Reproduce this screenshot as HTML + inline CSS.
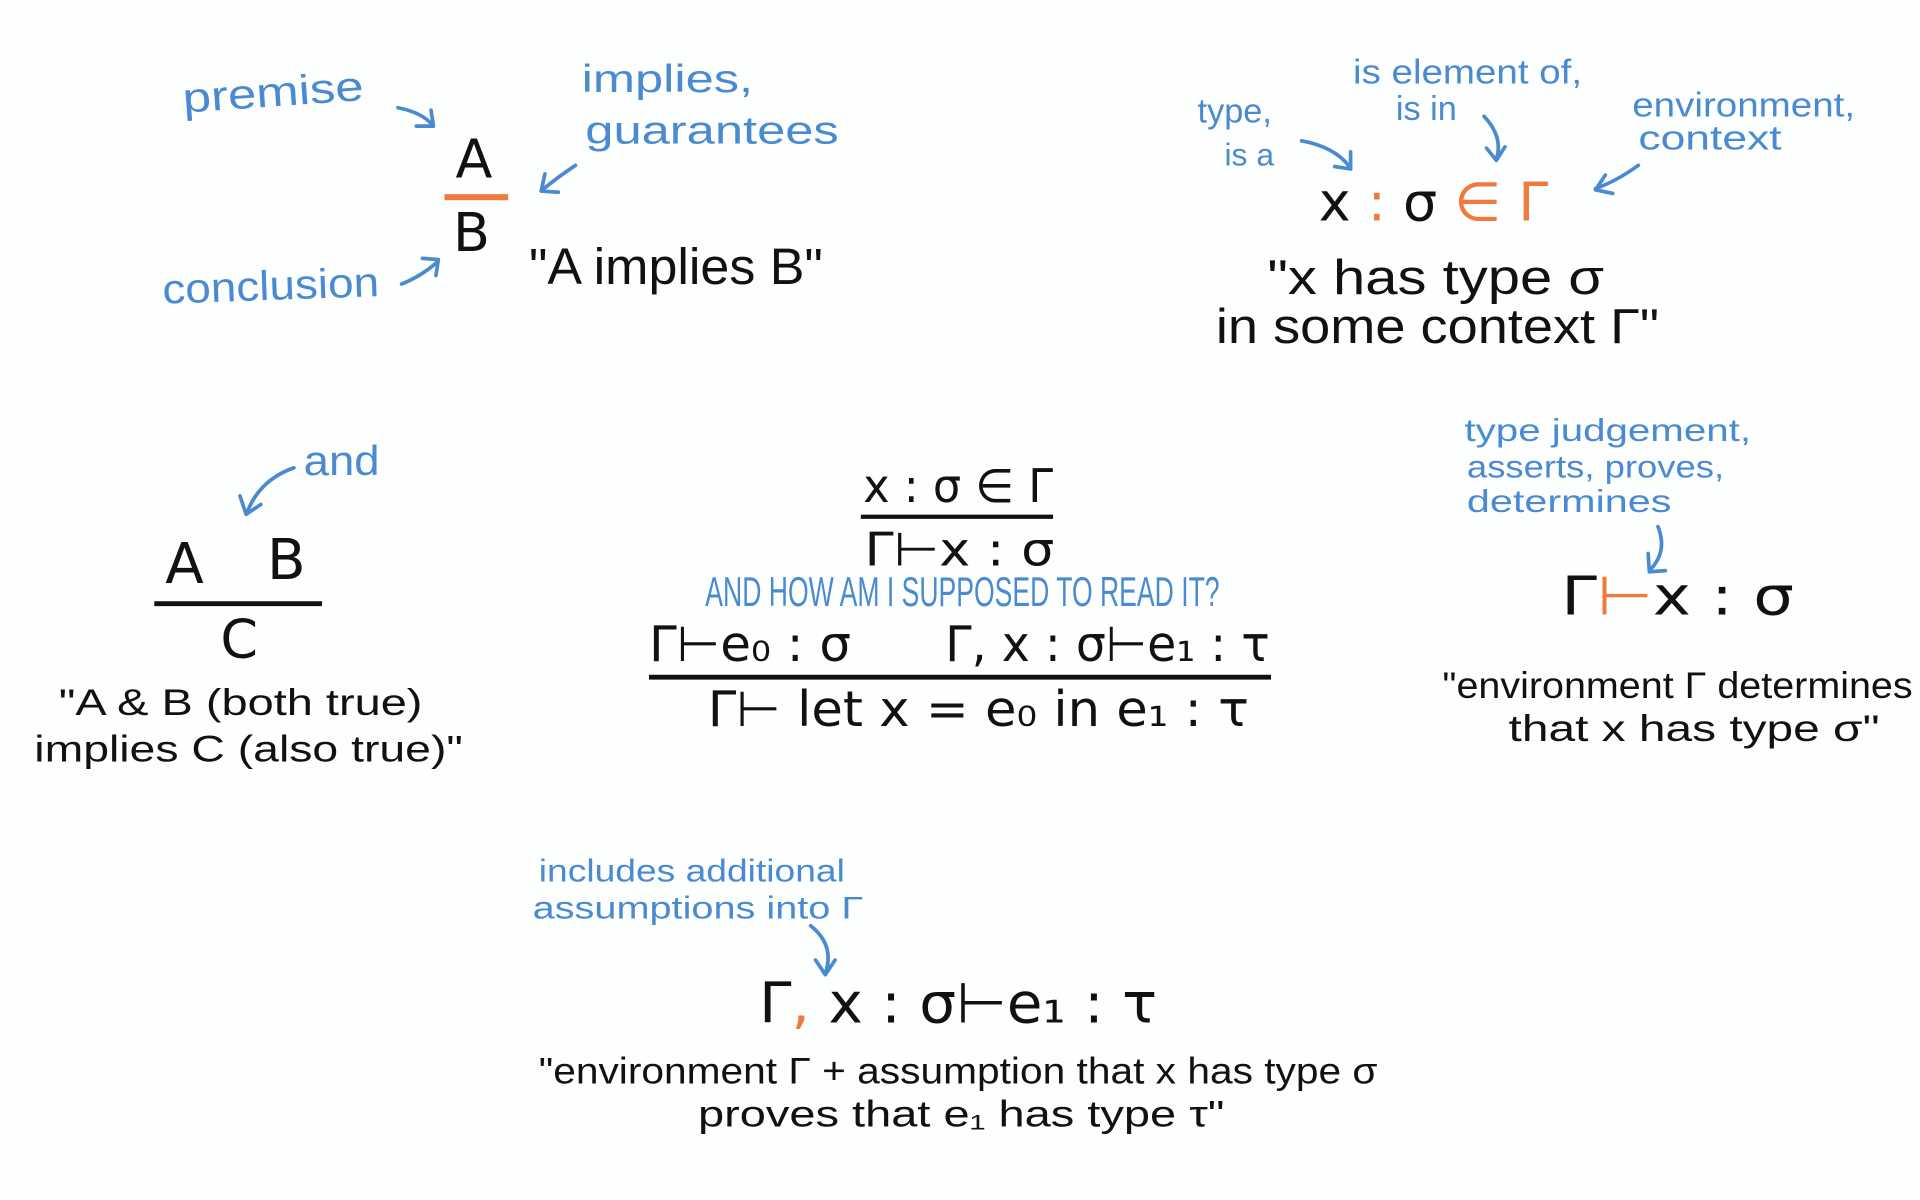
<!DOCTYPE html>
<html><head><meta charset="utf-8"><style>
html,body{margin:0;padding:0;background:#fdfefe;}
svg{display:block}
.b{fill:#4a8ad0;font-family:"Liberation Sans",sans-serif;}
.k{fill:#111;font-family:"Liberation Sans","DejaVu Sans",sans-serif;}
.o{fill:#ef7a3c;}
.m{font-family:"DejaVu Sans","Liberation Sans",sans-serif;}
.ar{stroke:#4a8ad0;stroke-width:3;fill:none;stroke-linecap:round;stroke-linejoin:round}
</style></head><body>
<svg width="1920" height="1200" viewBox="0 0 1568 980" preserveAspectRatio="none" xmlns="http://www.w3.org/2000/svg">
<rect width="1568" height="980" fill="#fdfefe"/>
<!-- Top left -->
<text class="b" x="150" y="92" font-size="34" transform="rotate(-4 150 92)" textLength="148" lengthAdjust="spacingAndGlyphs">premise</text>
<path class="ar" d="M325 88 Q345 92 353 102 M340 103 L354 103 L352 90"/>
<text class="b" x="475" y="75" font-size="32" textLength="140" lengthAdjust="spacingAndGlyphs">implies,</text>
<text class="b" x="478" y="117" font-size="32" textLength="207" lengthAdjust="spacingAndGlyphs">guarantees</text>
<path class="ar" d="M470 135 Q455 145 443 155 M445 142 L442 156 L456 157"/>
<text class="k m" x="372" y="145" font-size="44">A</text>
<line x1="363" y1="161" x2="415" y2="161" stroke="#ef7a3c" stroke-width="5"/>
<text class="k m" x="370" y="205" font-size="44">B</text>
<text class="b" x="133" y="248" font-size="34" transform="rotate(-2 133 248)" textLength="177" lengthAdjust="spacingAndGlyphs">conclusion</text>
<path class="ar" d="M328 232 Q345 225 357 214 M345 211 L358 212 L356 225"/>
<text class="k" x="432" y="232" font-size="42" textLength="240" lengthAdjust="spacingAndGlyphs">"A implies B"</text>
<!-- Top right -->
<text class="b" x="978" y="100" font-size="28">type,</text>
<text class="b" x="1000" y="135" font-size="26">is a</text>
<path class="ar" d="M1063 115 Q1090 120 1102 136 M1090 136 L1103 138 L1103 124"/>
<text class="b" x="1105" y="68" font-size="28" textLength="187" lengthAdjust="spacingAndGlyphs">is element of,</text>
<text class="b" x="1140" y="98" font-size="28">is in</text>
<path class="ar" d="M1212 95 Q1228 112 1222 130 M1214 121 L1222 131 L1229 120"/>
<text class="b" x="1333" y="95" font-size="28" textLength="182" lengthAdjust="spacingAndGlyphs">environment,</text>
<text class="b" x="1338" y="122" font-size="28" textLength="117" lengthAdjust="spacingAndGlyphs">context</text>
<path class="ar" d="M1338 135 Q1320 148 1303 154 M1311 143 L1303 155 L1317 158"/>
<text class="k m" x="1077" y="180" font-size="44">x <tspan class="o">:</tspan> σ <tspan class="o">∈ Γ</tspan></text>
<text class="k" x="1035" y="240" font-size="40" textLength="275" lengthAdjust="spacingAndGlyphs">"x has type σ</text>
<text class="k" x="993" y="280" font-size="40" textLength="362" lengthAdjust="spacingAndGlyphs">in some context Γ"</text>
<!-- Left middle -->
<text class="b" x="248" y="388" font-size="34" textLength="62" lengthAdjust="spacingAndGlyphs">and</text>
<path class="ar" d="M240 382 Q212 392 202 418 M196 405 L201 420 L213 412"/>
<text class="k m" x="135" y="476" font-size="46">A</text>
<text class="k m" x="218" y="473" font-size="46">B</text>
<line x1="126" y1="493" x2="263" y2="493" stroke="#111" stroke-width="4"/>
<text class="k m" x="180" y="537" font-size="44">C</text>
<text class="k" x="48" y="584" font-size="30" textLength="297" lengthAdjust="spacingAndGlyphs">"A &amp; B (both true)</text>
<text class="k" x="28" y="622" font-size="30" textLength="350" lengthAdjust="spacingAndGlyphs">implies  C (also true)"</text>
<!-- Center -->
<text class="k m" x="705" y="410" font-size="38" textLength="155" lengthAdjust="spacingAndGlyphs">x : σ ∈ Γ</text>
<line x1="703" y1="422" x2="860" y2="422" stroke="#111" stroke-width="3.5"/>
<text class="k m" x="706" y="462" font-size="38" textLength="155" lengthAdjust="spacingAndGlyphs">Γ⊢x : σ</text>
<text x="786" y="495" font-size="34" text-anchor="middle" fill="#4a8ad0" font-family="Liberation Sans Narrow,Liberation Sans,sans-serif" textLength="420" lengthAdjust="spacingAndGlyphs">AND HOW AM I SUPPOSED TO READ IT?</text>
<text class="k m" x="530" y="540" font-size="40" textLength="165" lengthAdjust="spacingAndGlyphs">Γ⊢e₀ : σ</text>
<text class="k m" x="772" y="540" font-size="40" textLength="265" lengthAdjust="spacingAndGlyphs">Γ, x : σ⊢e₁ : τ</text>
<line x1="530" y1="553" x2="1038" y2="553" stroke="#111" stroke-width="4"/>
<text class="k m" x="578" y="593" font-size="40" textLength="442" lengthAdjust="spacingAndGlyphs">Γ⊢ let x = e₀ in e₁ : τ</text>
<!-- Right middle -->
<text class="b" x="1196" y="360" font-size="26" textLength="234" lengthAdjust="spacingAndGlyphs">type judgement,</text>
<text class="b" x="1198" y="390" font-size="26" textLength="210" lengthAdjust="spacingAndGlyphs">asserts, proves,</text>
<text class="b" x="1198" y="418" font-size="26" textLength="167" lengthAdjust="spacingAndGlyphs">determines</text>
<path class="ar" d="M1354 430 Q1362 450 1348 465 M1346 452 L1347 467 L1360 466"/>
<text class="k m" x="1275" y="502" font-size="44" textLength="190" lengthAdjust="spacingAndGlyphs">Γ<tspan class="o">⊢</tspan>x : σ</text>
<text class="k" x="1178" y="570" font-size="30" textLength="384" lengthAdjust="spacingAndGlyphs">"environment Γ determines</text>
<text class="k" x="1232" y="605" font-size="30" textLength="303" lengthAdjust="spacingAndGlyphs">that x has type σ"</text>
<!-- Bottom -->
<text class="b" x="440" y="720" font-size="26" textLength="250" lengthAdjust="spacingAndGlyphs">includes additional</text>
<text class="b" x="435" y="750" font-size="26" textLength="270" lengthAdjust="spacingAndGlyphs">assumptions  into Γ</text>
<path class="ar" d="M662 756 Q682 772 674 795 M666 784 L674 796 L682 784"/>
<text class="k m" x="620" y="835" font-size="46" textLength="325" lengthAdjust="spacingAndGlyphs">Γ<tspan class="o">,</tspan> x : σ⊢e₁ : τ</text>
<text class="k" x="440" y="885" font-size="30" textLength="685" lengthAdjust="spacingAndGlyphs">"environment Γ + assumption that x has type σ</text>
<text class="k" x="570" y="920" font-size="30" textLength="430" lengthAdjust="spacingAndGlyphs">proves that  e₁ has type τ"</text>
</svg>
</body></html>
